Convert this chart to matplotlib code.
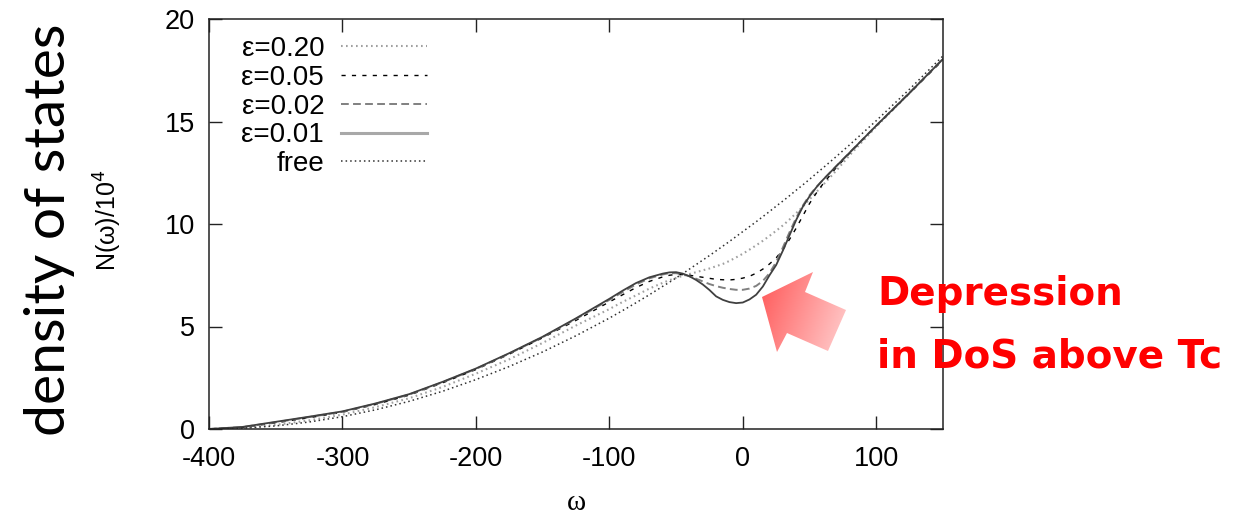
import numpy as np
import matplotlib
matplotlib.use('Agg')
import matplotlib.pyplot as plt
from matplotlib.lines import Line2D
from matplotlib.patches import Polygon
from matplotlib.colors import LinearSegmentedColormap

# omega grid
omega = [-400, -375, -350, -325, -300, -275, -250, -225, -200, -175, -150, -125,
         -100, -90, -80, -70, -60, -55, -50, -45, -40, -35, -30, -25, -20, -15,
         -10, -5, 0, 5, 10, 15, 20, 25, 30, 35, 40, 45, 50, 55, 60,
         70, 80, 90, 100, 125, 150]

# N(omega)/10^4
eps_020 = [0, 0.05, 0.2, 0.42, 0.7, 1.07, 1.5, 2.05, 2.7, 3.4, 4.2, 5.05,
           5.85, 6.2, 6.52, 6.85, 7.13, 7.26, 7.37, 7.47, 7.56, 7.65, 7.74, 7.83, 7.94, 8.05,
           8.2, 8.37, 8.55, 8.75, 8.96, 9.18, 9.42, 9.67, 9.93, 10.22, 10.53, 10.85, 11.2, 11.55, 11.9,
           12.6, 13.35, 14.05, 14.75, 16.4, 18.05]
eps_005 = [0, 0.08, 0.3, 0.55, 0.82, 1.2, 1.65, 2.25, 2.9, 3.65, 4.45, 5.3,
           6.2, 6.55, 6.9, 7.2, 7.42, 7.5, 7.54, 7.53, 7.5, 7.45, 7.4, 7.35, 7.3, 7.28,
           7.27, 7.3, 7.36, 7.45, 7.6, 7.8, 8.05, 8.35, 8.75, 9.25, 9.8, 10.4, 11.0, 11.5, 11.95,
           12.75, 13.45, 14.12, 14.78, 16.38, 18.0]
eps_002 = [0, 0.09, 0.33, 0.58, 0.84, 1.23, 1.68, 2.28, 2.93, 3.68, 4.48, 5.37,
           6.3, 6.68, 7.05, 7.35, 7.54, 7.6, 7.6, 7.55, 7.45, 7.33, 7.2, 7.07, 6.97, 6.89,
           6.83, 6.79, 6.79, 6.85, 6.98, 7.22, 7.6, 8.15, 8.85, 9.6, 10.3, 10.9, 11.4, 11.8, 12.15,
           12.82, 13.48, 14.14, 14.8, 16.4, 18.05]
eps_001 = [0, 0.1, 0.35, 0.6, 0.86, 1.25, 1.7, 2.3, 2.95, 3.7, 4.5, 5.4,
           6.35, 6.75, 7.12, 7.4, 7.58, 7.64, 7.65, 7.58, 7.45, 7.27, 7.05, 6.78, 6.47, 6.3,
           6.19, 6.14, 6.17, 6.32, 6.55, 6.95, 7.5, 8.0, 8.7, 9.45, 10.2, 10.85, 11.35, 11.78, 12.15,
           12.82, 13.48, 14.14, 14.8, 16.4, 18.05]
free = [0, 0.04, 0.15, 0.34, 0.6, 0.94, 1.35, 1.84, 2.41, 3.05, 3.76, 4.55,
        5.41, 5.78, 6.16, 6.55, 6.96, 7.16, 7.37, 7.58, 7.8, 8.02, 8.24, 8.46, 8.69, 8.92,
        9.15, 9.39, 9.63, 9.87, 10.11, 10.36, 10.61, 10.87, 11.12, 11.38, 11.65, 11.91, 12.18, 12.46, 12.73,
        13.29, 13.86, 14.45, 15.04, 16.58, 18.2]

labels = ['ε=0.20', 'ε=0.05', 'ε=0.02', 'ε=0.01', 'free']
xticks = [-400, -300, -200, -100, 0, 100]
yticks = [0, 5, 10, 15, 20]

plt.rcParams['font.family'] = ['Liberation Sans', 'DejaVu Sans']
plt.rcParams['axes.unicode_minus'] = False

fig = plt.figure(figsize=(12.42, 5.16), dpi=100)
ax = fig.add_axes([209 / 1242, 1 - 429 / 516, 734 / 1242, 410 / 516])

st_020 = dict(color='#a0a0a0', lw=1.5, linestyle=(0, (0.8, 1.6)))
st_005 = dict(color='black', lw=1.0, linestyle=(0, (3.0, 4.5)))
st_002 = dict(color='#808080', lw=1.4, linestyle=(0, (4.0, 2.2)))
st_free = dict(color='#303030', lw=1.1, linestyle=(0, (1.0, 2.0)))

ax.plot(omega, eps_020, **st_020)
ax.plot(omega, eps_005, **st_005)
ax.plot(omega, eps_002, **st_002)
ax.plot(omega, eps_001, color='#404040', lw=1.3)
ax.plot(omega, free, **st_free)

ax.set_xlim(-400, 150)
ax.set_ylim(0, 20)
ax.set_xticks(xticks)
ax.set_yticks(yticks)
ax.tick_params(direction='in', length=9.5, width=1.0, top=True, right=True,
               labelsize=19.5, color='#222222')
ax.tick_params(axis='x', pad=12)
ax.tick_params(axis='y', pad=10)
for s in ax.spines.values():
    s.set_linewidth(1.1)
    s.set_color('#222222')

ax.set_xlabel('ω', family='Liberation Serif', fontsize=21)
ax.xaxis.label.set_va('center')
ax.xaxis.set_label_coords(0.5, (429 - 503) / 410)
ax.set_ylabel('N(ω)/10$^4$', fontsize=18)
ax.yaxis.set_label_coords((124 - 209) / 734, (429 - 220) / 410)

handles = [
    Line2D([], [], **st_020),
    Line2D([], [], **st_005),
    Line2D([], [], **st_002),
    Line2D([], [], color='#a8a8a8', lw=2.2),
    Line2D([], [], **st_free),
]
ax.legend(handles, labels, loc='upper right', bbox_to_anchor=((427 - 209) / 734, (429 - 36) / 410),
          frameon=False, markerfirst=False, fontsize=20, handlelength=3.1,
          handletextpad=0.6, labelspacing=0.1, borderpad=0, borderaxespad=0)

# overlay for slide annotations (pixel coordinates)
ov = fig.add_axes([0, 0, 1, 1], zorder=5)
ov.set_xlim(0, 1242)
ov.set_ylim(516, 0)
ov.axis('off')

ov.text(50, 230, 'density of states', rotation=90, ha='center', va='center',
        fontsize=41, family=['Lato', 'DejaVu Sans'], color='black')
ov.text(877, 305, 'Depression', ha='left', va='baseline', fontsize=28,
        family=['DejaVu Sans'], weight='bold', color='#ff0000')
ov.text(877, 368, 'in DoS above Tc', ha='left', va='baseline', fontsize=28,
        family=['DejaVu Sans'], weight='bold', color='#ff0000')

arrow_pts = [(762, 297), (813, 272), (805, 292), (846, 310), (828, 351), (787, 333), (777, 352)]
poly = Polygon(arrow_pts, closed=True, facecolor='none', edgecolor='none')
ov.add_patch(poly)
gx, gy = np.meshgrid(np.linspace(755, 850, 120), np.linspace(265, 355, 120))
grad = ((gx - 762) * 84 + (gy - 297) * 30) / (84 ** 2 + 30 ** 2)
cmap = LinearSegmentedColormap.from_list('pink', ['#ff6262', '#ffc6c6'])
im = ov.imshow(grad, extent=(755, 850, 355, 265), cmap=cmap, vmin=0, vmax=1,
               origin='upper', aspect='auto', interpolation='bilinear')
im.set_clip_path(poly)
ov.set_xlim(0, 1242)
ov.set_ylim(516, 0)

fig.savefig('out.png', dpi=100)
